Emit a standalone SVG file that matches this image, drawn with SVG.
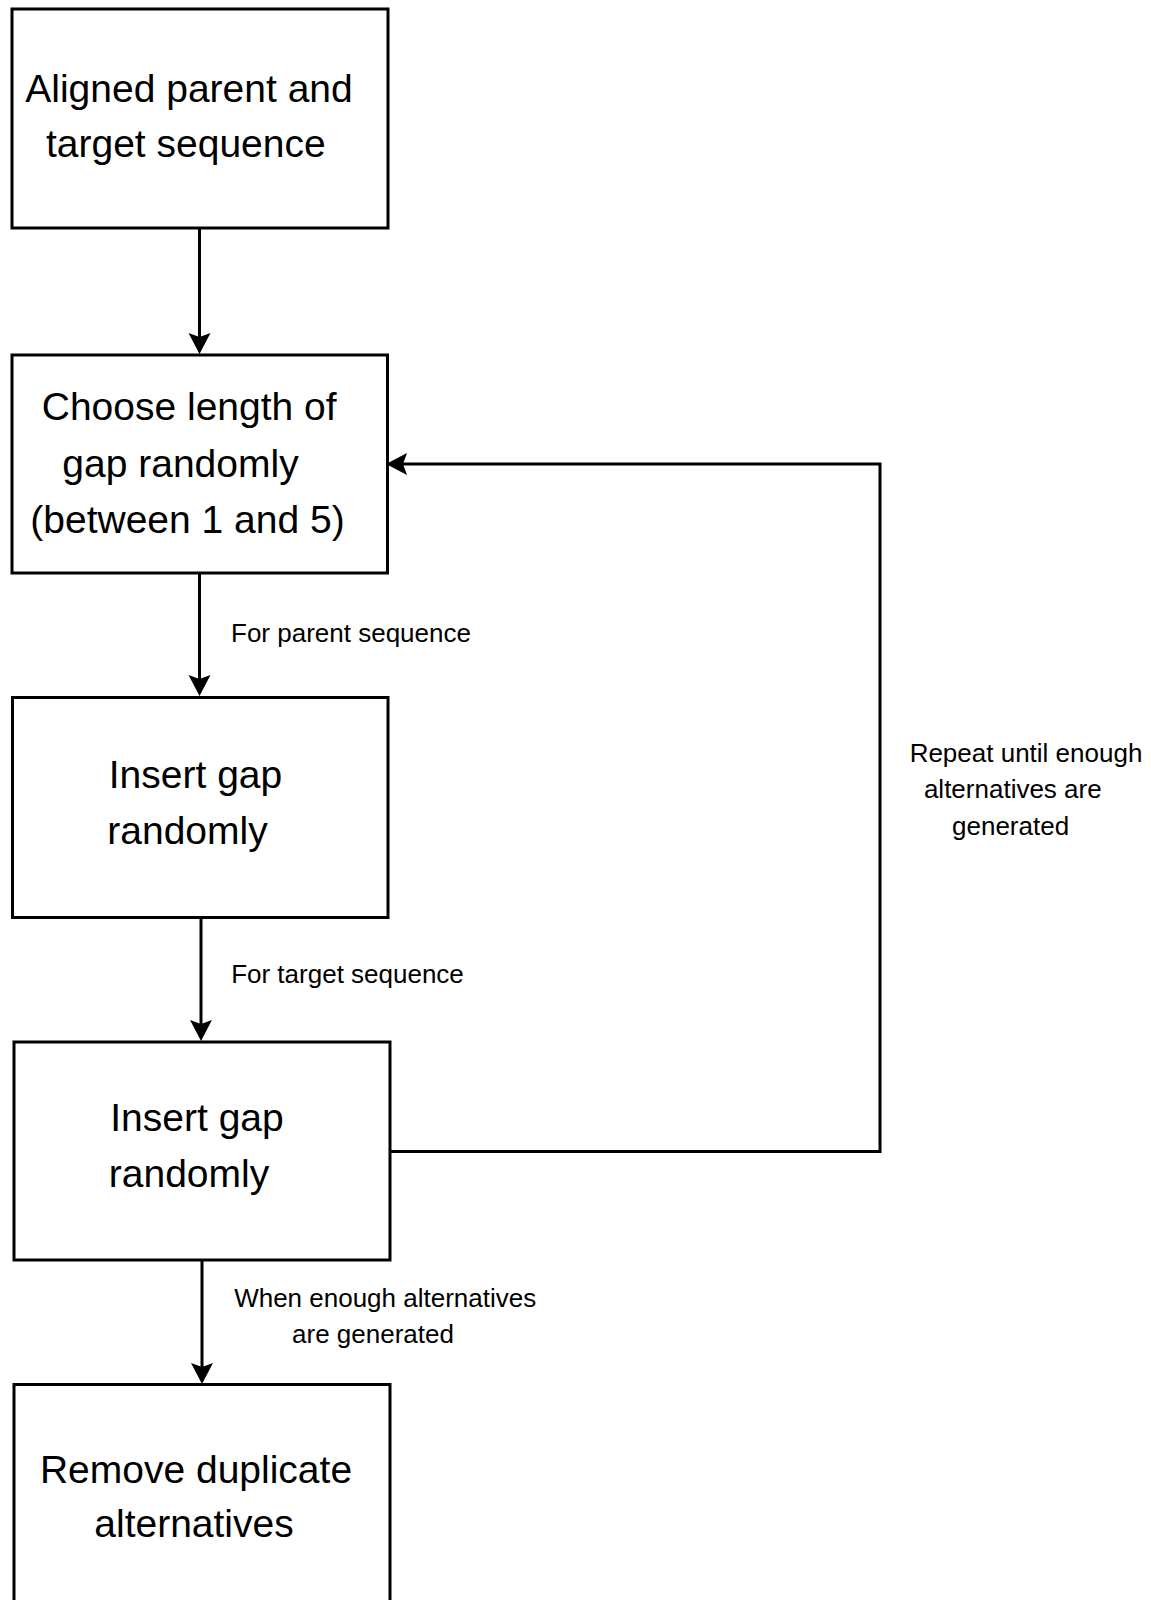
<svg xmlns="http://www.w3.org/2000/svg" width="1151" height="1600" viewBox="0 0 1151 1600">
  <defs>
    <style>
      .box { fill: #ffffff; stroke: #000000; stroke-width: 3; }
      .big { font-family: "Liberation Sans", Arial, sans-serif; font-size: 39px; fill: #000000; text-anchor: middle; }
      .lbl { font-family: "Liberation Sans", Arial, sans-serif; font-size: 26px; fill: #000000; text-anchor: middle; }
      .edge { fill: none; stroke: #000000; stroke-width: 3; }
    </style>
    <marker id="arrow" viewBox="-13 -12 24 24" refX="0" refY="0" markerWidth="24" markerHeight="24" markerUnits="userSpaceOnUse" orient="auto">
      <path d="M10,0 L-11,-11 L-7,0 L-11,11 Z" fill="#000000"/>
    </marker>
  </defs>

  <rect width="1151" height="1600" fill="#ffffff"/>

  <!-- connectors -->
  <g id="connectors">
    <line class="edge" x1="199.5" y1="228" x2="199.5" y2="344" marker-end="url(#arrow)"/>
    <line class="edge" x1="199.5" y1="573" x2="199.5" y2="686" marker-end="url(#arrow)"/>
    <line class="edge" x1="201" y1="917" x2="201" y2="1031" marker-end="url(#arrow)"/>
    <line class="edge" x1="202" y1="1260" x2="202" y2="1374" marker-end="url(#arrow)"/>
    <path class="edge" d="M390,1151.5 H880 V464 H396" marker-end="url(#arrow)"/>
    <text class="lbl" x="351" y="641.7">For parent sequence</text>
    <text class="lbl" x="347.5" y="983.3">For target sequence</text>
    <text class="lbl" x="1026" y="761.7">Repeat until enough</text>
    <text class="lbl" x="1012.8" y="798.3">alternatives are</text>
    <text class="lbl" x="1010.6" y="835">generated</text>
    <text class="lbl" x="385.2" y="1306.7">When enough alternatives</text>
    <text class="lbl" x="373" y="1343.3">are generated</text>
  </g>

  <!-- nodes -->
  <g id="node-aligned">
    <rect class="box" x="12" y="9" width="376" height="219"/>
    <text class="big" x="189" y="101.7">Aligned parent and</text>
    <text class="big" x="185.8" y="156.5">target sequence</text>
  </g>
  <g id="node-choose-length">
    <rect class="box" x="12" y="355" width="375.5" height="218"/>
    <text class="big" x="189.2" y="420">Choose length of</text>
    <text class="big" x="180.5" y="476.7">gap randomly</text>
    <text class="big" x="187.5" y="533.3">(between 1 and 5)</text>
  </g>
  <g id="node-insert-parent">
    <rect class="box" x="12.5" y="697.5" width="375.5" height="220"/>
    <text class="big" x="195.5" y="788.3">Insert gap</text>
    <text class="big" x="187.5" y="844">randomly</text>
  </g>
  <g id="node-insert-target">
    <rect class="box" x="14" y="1042" width="376" height="218"/>
    <text class="big" x="197" y="1130.7">Insert gap</text>
    <text class="big" x="189" y="1186.7">randomly</text>
  </g>
  <g id="node-remove-duplicates">
    <rect class="box" x="14" y="1384.5" width="376" height="230"/>
    <text class="big" x="196" y="1483.3">Remove duplicate</text>
    <text class="big" x="194" y="1536.7">alternatives</text>
  </g>
</svg>
